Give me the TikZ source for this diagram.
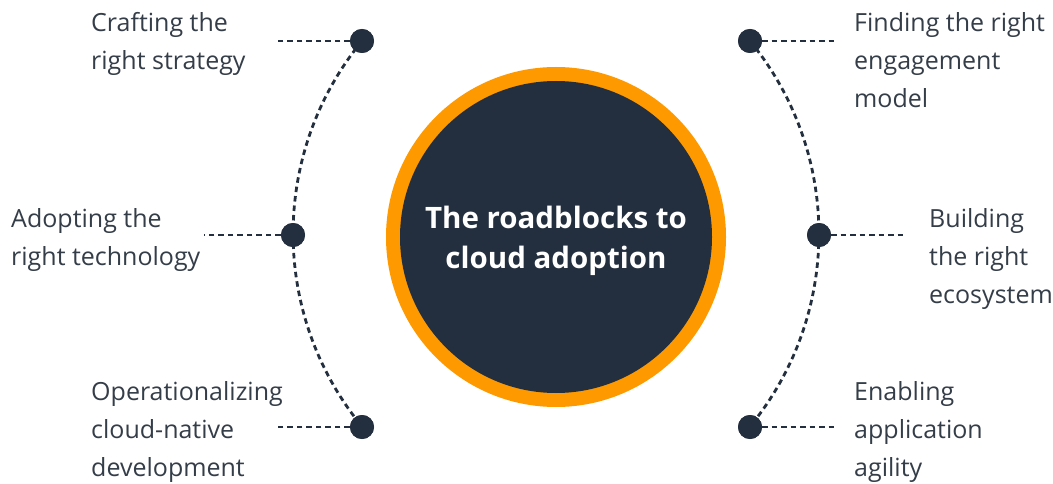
\documentclass[tikz,border=0pt]{standalone}
\usepackage{fontspec}
\setmainfont{Open Sans}
\definecolor{ink}{HTML}{232F3E}
\definecolor{txt}{HTML}{343D48}
\definecolor{amber}{HTML}{FF9900}
\begin{document}
\begin{tikzpicture}[x=1pt,y=1pt,
  dot/.style={circle,fill=ink,minimum size=24pt,inner sep=0pt},
  dline/.style={ink,line width=2.8pt,dash pattern=on 5.5pt off 4pt},
  label/.style={anchor=west,inner sep=0pt,align=left,text=txt,font=\fontsize{25}{38}\selectfont},
  title/.style={align=center,text=white,font=\fontsize{29.5}{40}\selectfont\bfseries}]
\useasboundingbox (0,0) rectangle (1053,483);
\fill[amber] (556,246) circle (170);
\fill[ink] (556,246) circle (156);
\node[title] (c) at (556,242) {The roadblocks to\\cloud adoption};
% dots
\node[dot] (lt) at (362,442) {};
\node[dot] (lm) at (293,248) {};
\node[dot] (lb) at (362,56) {};
\node[dot] (rt) at (750,442) {};
\node[dot] (rm) at (819,248) {};
\node[dot] (rb) at (750,56) {};
% free ends of the connectors
\coordinate (elt) at (274,442);
\coordinate (elm) at (204,248);
\coordinate (elb) at (274,56);
\coordinate (ert) at (838,442);
\coordinate (erm) at (907,248);
\coordinate (erb) at (838,56);
% arcs and connectors
\draw[dline] (lt.center) arc (140.65:219.35:304);
\draw[dline] (rt.center) arc (39.35:-39.35:304);
\draw[dline] (lt.west) -- (elt);
\draw[dline] (lm.west) -- (elm);
\draw[dline] (lb.west) -- (elb);
\draw[dline] (rt.east) -- (ert);
\draw[dline] (rm.east) -- (erm);
\draw[dline] (rb.east) -- (erb);
\node[dot] at (lt) {};
\node[dot] at (lm) {};
\node[dot] at (lb) {};
\node[dot] at (rt) {};
\node[dot] at (rm) {};
\node[dot] at (rb) {};
% labels
\node[label] (tlt) at (91,439) {Crafting the\\right strategy};
\node[label] (tlm) at (11,243) {Adopting the\\right technology};
\node[label] (tlb) at (91,51) {Operationalizing\\cloud-native\\development};
\node[label] (trt) at (854,423) {Finding the right\\engagement\\model};
\node[label] (trm) at (929,224) {Building\\the right\\ecosystem};
\node[label] (trb) at (854,51) {Enabling\\application\\agility};
\end{tikzpicture}
\end{document}
